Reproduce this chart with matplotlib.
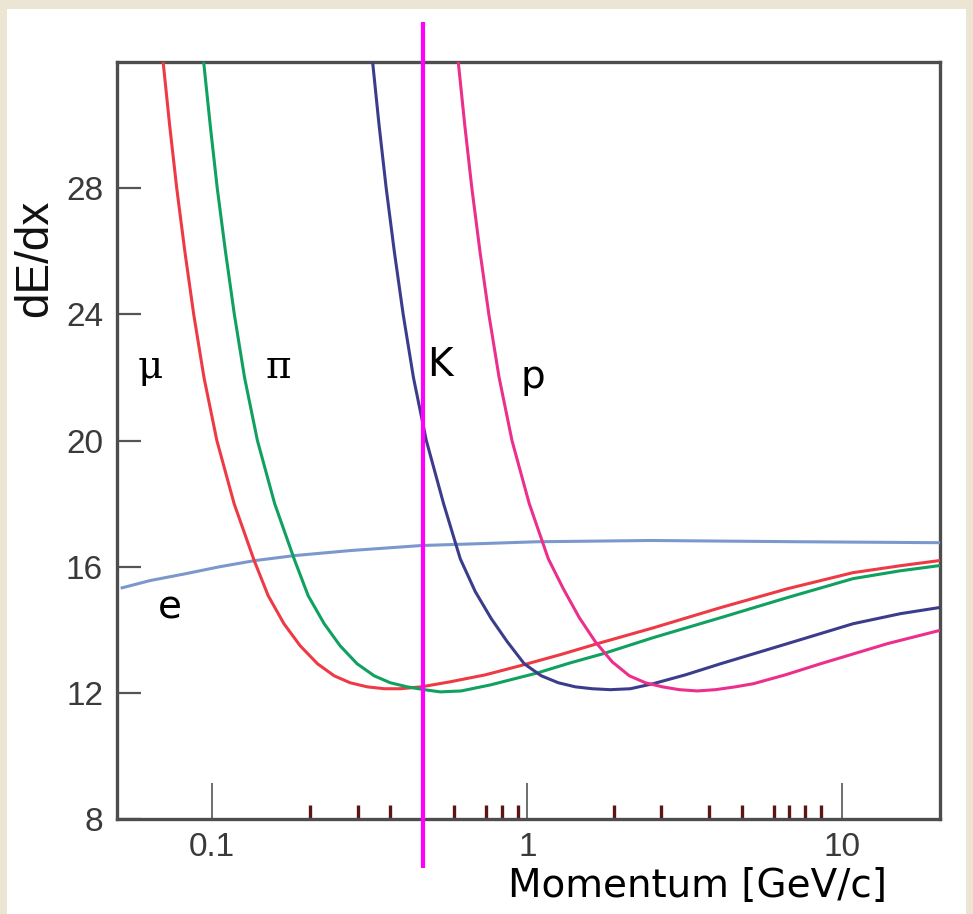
import matplotlib
matplotlib.use("Agg")
import matplotlib.pyplot as plt
from matplotlib.patches import Rectangle
from matplotlib.ticker import NullFormatter

# ---- data (momentum GeV/c, dE/dx) ----
mu_p = [0.0699, 0.0733, 0.0772, 0.0819, 0.0874, 0.0942, 0.1035, 0.1174, 0.136, 0.1506,
        0.169, 0.1903, 0.216, 0.2439, 0.274, 0.3104, 0.352, 0.3952, 0.461, 0.5696,
        0.7356, 0.95, 1.273, 1.67, 2.51, 4.10, 6.69, 10.8, 15.28, 20.2]
mu_v = [32.0, 30.0, 28.0, 26.0, 24.0, 22.0, 20.0, 18.0, 16.19, 15.08,
        14.19, 13.49, 12.92, 12.54, 12.32, 12.19, 12.13, 12.13, 12.19, 12.35,
        12.57, 12.86, 13.21, 13.56, 14.06, 14.70, 15.30, 15.81, 16.03, 16.19]

pi_p = [0.0940, 0.0986, 0.1038, 0.1102, 0.1176, 0.1267, 0.1392, 0.1579, 0.182, 0.2017,
        0.2268, 0.2548, 0.2885, 0.3267, 0.3674, 0.4159, 0.471, 0.5295, 0.6173, 0.763,
        1.076, 1.369, 1.74, 2.51, 4.10, 6.69, 10.8, 15.28, 20.2]
pi_v = [32.0, 30.0, 28.0, 26.0, 24.0, 22.0, 20.0, 18.0, 16.25, 15.08,
        14.19, 13.49, 12.92, 12.54, 12.32, 12.19, 12.10, 12.03, 12.06, 12.25,
        12.63, 12.95, 13.24, 13.75, 14.38, 15.02, 15.62, 15.87, 16.03]

k_p = [0.323, 0.3386, 0.3567, 0.3784, 0.4038, 0.4352, 0.4782, 0.5424, 0.6128, 0.6838,
       0.7688, 0.864, 0.9783, 1.108, 1.254, 1.42, 1.608, 1.834, 2.123, 2.51,
       3.175, 4.10, 6.69, 10.8, 15.28, 20.2]
k_v = [32.0, 30.0, 28.0, 26.0, 24.0, 22.0, 20.0, 18.0, 16.25, 15.21,
       14.35, 13.62, 12.92, 12.54, 12.32, 12.19, 12.13, 12.10, 12.13, 12.29,
       12.57, 12.92, 13.56, 14.19, 14.51, 14.70]

pr_p = [0.604, 0.6333, 0.667, 0.7076, 0.7551, 0.8139, 0.8942, 1.0143, 1.166, 1.301,
        1.463, 1.644, 1.861, 2.108, 2.37, 2.684, 3.038, 3.465, 3.953, 4.574,
        5.22, 6.59, 8.51, 13.9, 20.2]
pr_v = [32.0, 30.0, 28.0, 26.0, 24.0, 22.0, 20.0, 18.0, 16.25, 15.30,
        14.38, 13.62, 12.98, 12.54, 12.32, 12.19, 12.10, 12.06, 12.10, 12.19,
        12.29, 12.57, 12.92, 13.56, 13.97]

e_p = [0.0518, 0.0636, 0.0827, 0.106, 0.136, 0.182, 0.274, 0.461, 0.709, 1.076,
       2.46, 7.36, 20.2]
e_v = [15.33, 15.56, 15.78, 16.0, 16.19, 16.35, 16.51, 16.67, 16.73, 16.79,
       16.83, 16.79, 16.76]

cut_momentum = 0.468

y_ticks = [8, 12, 16, 20, 24, 28]
x_major = [0.1, 1, 10]
x_major_labels = ["0.1", "1", "10"]
x_minor = [0.205, 0.291, 0.367, 0.587, 0.741, 0.833, 0.936,
           1.89, 2.66, 3.78, 4.81, 6.08, 6.79, 7.63, 8.58]

labels = [("μ", 0.0636, 22.3, "serif"), ("π", 0.162, 22.3, "serif"),
          ("K", 0.529, 22.4, "sans"), ("p", 1.045, 22.0, "sans"),
          ("e", 0.0736, 14.7, "sans")]

# ---- figure ----
W, H = 973, 914
fig = plt.figure(figsize=(W / 100, H / 100), dpi=100, facecolor="#ece5d4")
fig.patches.append(Rectangle((7 / W, 0), (966 - 7) / W, (914 - 9) / H,
                             transform=fig.transFigure, facecolor="white",
                             edgecolor="none", zorder=-5))

ax = fig.add_axes([117 / W, 95 / H, 823 / W, 757 / H])
ax.set_zorder(2)
ax.set_facecolor("white")
ax.set_xscale("log")
ax.set_xlim(0.0499, 20.4)
ax.set_ylim(8, 32)

lw = 2.2
ax.plot(e_p, e_v, color="#7b98cc", lw=lw, zorder=3, solid_joinstyle="round")
ax.plot(mu_p, mu_v, color="#ee3a45", lw=lw, zorder=4, solid_joinstyle="round")
ax.plot(pi_p, pi_v, color="#10a060", lw=lw, zorder=4, solid_joinstyle="round")
ax.plot(k_p, k_v, color="#3c3c8c", lw=lw, zorder=4, solid_joinstyle="round")
ax.plot(pr_p, pr_v, color="#ec2f8c", lw=lw, zorder=4, solid_joinstyle="round")

# magenta cut line, extending beyond the frame
ax.plot([cut_momentum, cut_momentum], [33.27, 6.44], color="#ff00ff", lw=3.0,
        clip_on=False, zorder=10, solid_capstyle="butt")

for s in ax.spines.values():
    s.set_color("#4d4d4d")
    s.set_linewidth(2.4)

ax.set_yticks(y_ticks)
ax.set_yticklabels([str(t) for t in y_ticks])
ax.tick_params(axis="y", direction="in", length=17, width=1.6, color="#555555",
               labelsize=24, labelcolor="#3a3a3a", pad=10)
for t in ax.get_yticklabels():
    t.set_fontfamily("Liberation Sans")

ax.set_xticks(x_major)
ax.set_xticklabels(x_major_labels)
ax.set_xticks(x_minor, minor=True)
ax.xaxis.set_minor_formatter(NullFormatter())
ax.tick_params(axis="x", which="major", direction="in", length=26, width=1.2,
               color="#555555", labelsize=24, labelcolor="#3a3a3a", pad=9)
ax.tick_params(axis="x", which="minor", direction="in", length=10, width=2.4,
               color="#5a1515")
ax.tick_params(axis="y", which="minor", left=False)
for t in ax.get_xticklabels():
    t.set_fontfamily("Liberation Sans")

for txt, px, py, fam in labels:
    family = "DejaVu Serif" if fam == "serif" else "DejaVu Sans"
    ax.text(px, py, txt, fontsize=28, family=family, color="black",
            ha="center", va="center", zorder=6)

fig.text(35 / W, 1 - 258 / H, "dE/dx", rotation=90, fontsize=33,
         family="Liberation Sans", color="#111111", ha="center", va="center")
fig.text(697 / W, 1 - 886 / H, "Momentum [GeV/c]", fontsize=28,
         family="DejaVu Sans", color="black", ha="center", va="center")

fig.savefig("out.png", dpi=100, facecolor=fig.get_facecolor())
